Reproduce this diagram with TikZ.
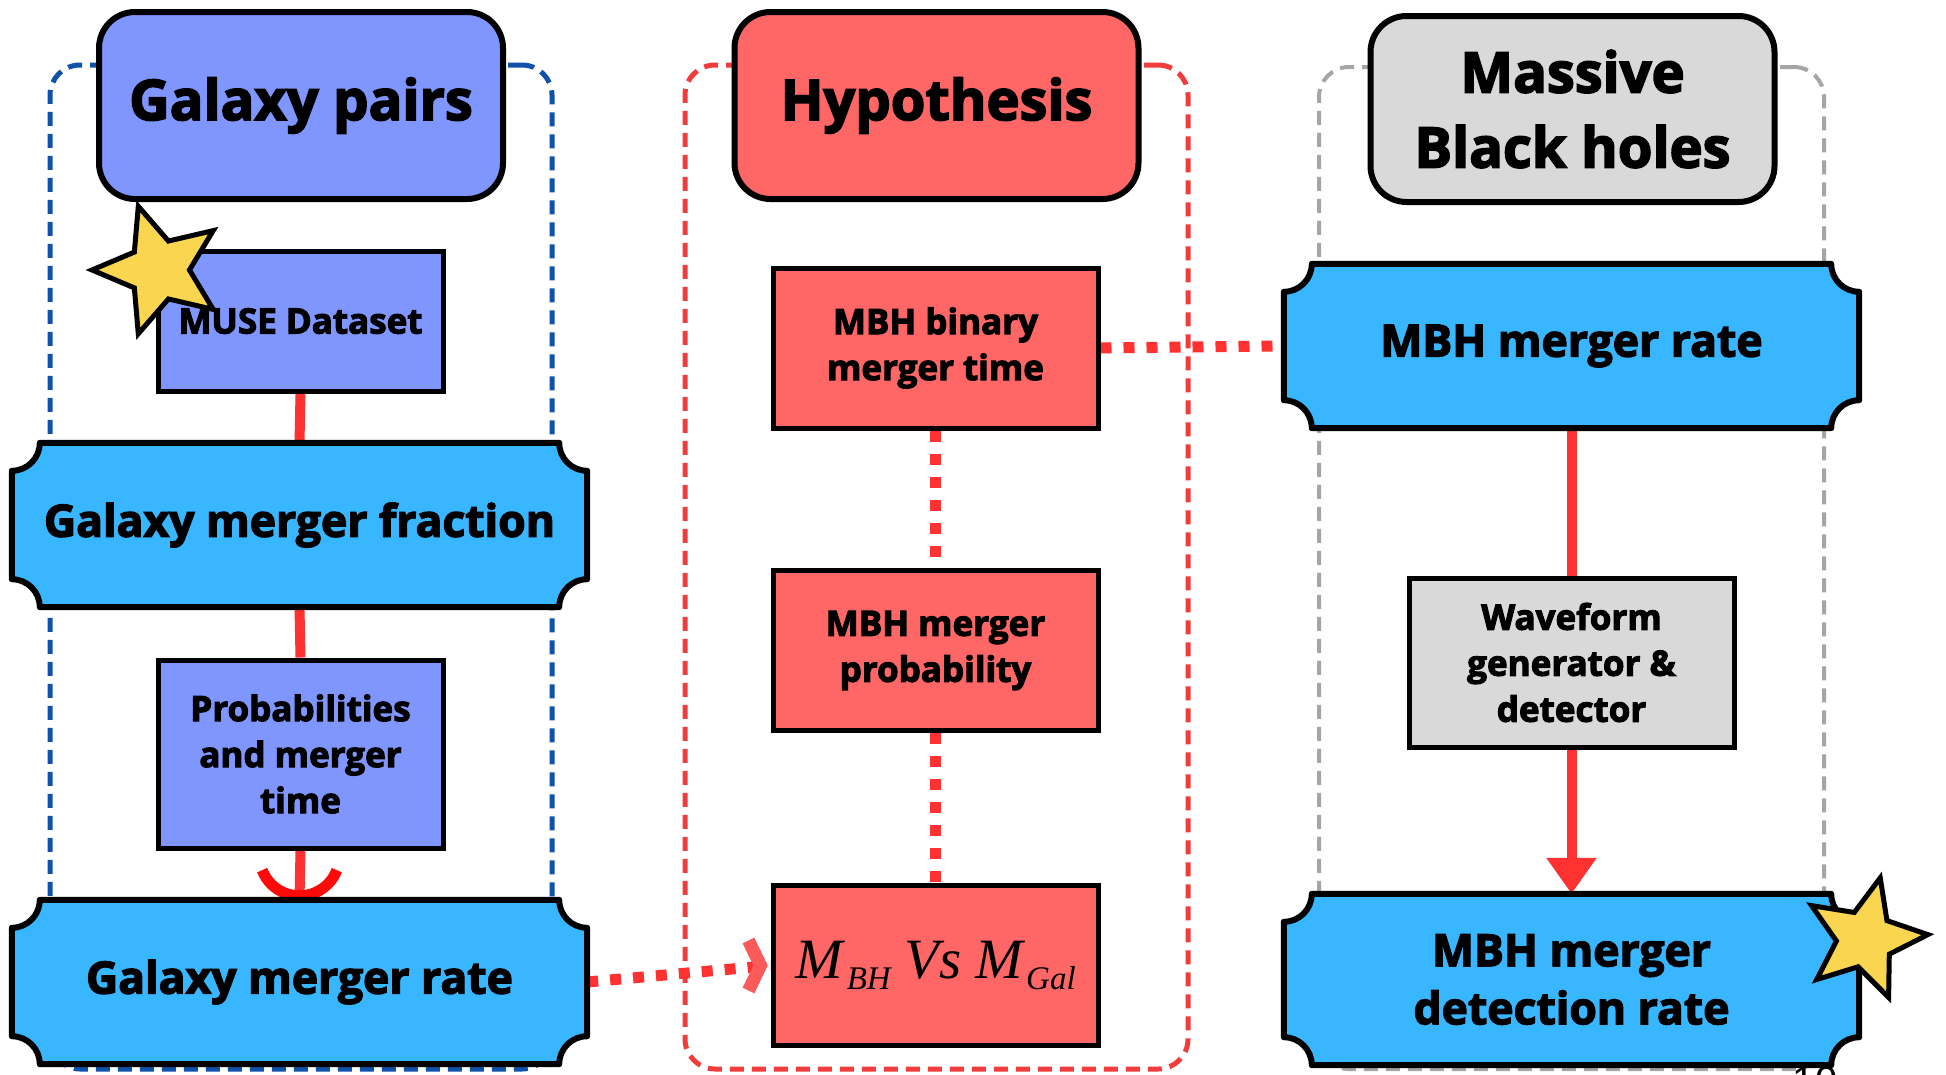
\documentclass[tikz,border=0pt]{standalone}
\usepackage{fontspec}
\setmainfont{Open Sans}[BoldFeatures={FakeBold=3}]
\newfontfamily\serifface{Liberation Serif}
\newfontfamily\slidenumface{Liberation Sans}
\usetikzlibrary{shapes.geometric,arrows.meta,calc}

\definecolor{periwinkle}{RGB}{128,150,255}
\definecolor{skyblue}{RGB}{56,182,255}
\definecolor{salmon}{RGB}{255,102,102}
\definecolor{lightgrey}{RGB}{217,217,217}
\definecolor{starfill}{RGB}{250,214,80}
\definecolor{linkred}{RGB}{255,49,49}
\definecolor{chevred}{RGB}{250,90,90}
\definecolor{arcred}{RGB}{255,10,10}
\definecolor{navydash}{RGB}{16,82,170}
\definecolor{reddash}{RGB}{240,60,60}
\definecolor{greydash}{RGB}{165,165,165}

\pgfdeclarelayer{frames}
\pgfdeclarelayer{links}
\pgfdeclarelayer{plates}
\pgfsetlayers{frames,links,plates,main}

\newcommand\headfont{\bfseries\fontsize{56}{75}\selectfont}
\newcommand\platefont{\bfseries\fontsize{44.5}{58}\selectfont}
\newcommand\boxfont{\bfseries\fontsize{35}{46}\selectfont}
\newcommand\lowidx[1]{\raisebox{-11pt}{\fontsize{33}{33}\selectfont #1}}

% ticket-shaped plate: rectangle with concave quarter-circle corners
\def\notchr{28}
\newcommand\notchplate[2]{%
  \filldraw[fill=#2, draw=black, line width=6, line join=round]
    ($(#1.north west)+(\notchr,0)$) -- ($(#1.north east)-(\notchr,0)$)
    arc[start angle=180, end angle=90, radius=\notchr]
    -- ($(#1.south east)-(0,\notchr)$)
    arc[start angle=270, end angle=180, radius=\notchr]
    -- ($(#1.south west)+(\notchr,0)$)
    arc[start angle=0, end angle=-90, radius=\notchr]
    -- ($(#1.north west)+(0,\notchr)$)
    arc[start angle=90, end angle=0, radius=\notchr]
    -- cycle;}

\tikzset{
  frame/.style={rectangle, rounded corners=30, line width=5, dash pattern=on 14 off 8, inner sep=0},
  header/.style={rectangle, draw=black, line width=6, rounded corners=36, minimum width=404,
    minimum height=187, inner sep=0, align=center, font=\headfont, text=black},
  plainbox/.style={rectangle, draw=black, line width=5, inner sep=0, align=center,
    font=\boxfont, text=black},
  midbox/.style={plainbox, fill=salmon, minimum width=325, minimum height=160},
  plate/.style={rectangle, minimum width=575, minimum height=164, inner sep=0, align=center,
    font=\platefont, text=black},
  redlink/.style={draw=linkred, line width=10},
  dotlink/.style={draw=linkred, line width=11, dash pattern=on 11 off 12},
  starmark/.style={star, star points=5, star point ratio=2.2, draw=black, line width=5,
    fill=starfill, inner sep=0},
}

\begin{document}
\begin{tikzpicture}[x=1pt, y=-1pt, line cap=butt]
\useasboundingbox (0,0) rectangle (1946,1074);

\begin{pgfonlayer}{frames}
  \fill[white] (0,0) rectangle (1946,1074);
  \node[frame, draw=navydash, minimum width=502, minimum height=1004] (leftframe) at (301,567) {};
  \node[frame, draw=reddash, minimum width=503, minimum height=1004] (midframe) at (936.5,567) {};
  \node[frame, draw=greydash, line width=4, minimum width=505, minimum height=1002] (rightframe) at (1571.5,568) {};
\end{pgfonlayer}

% left column: galaxy pairs
\node[header, fill=periwinkle] (gpairs) at (301,105.5) {Galaxy pairs};
\node[plainbox, fill=periwinkle, minimum width=285, minimum height=140] (muse) at (300.5,321) {MUSE Dataset};
\node[plate] (gmf) at (299.5,525) {Galaxy merger fraction};
\node[plainbox, fill=periwinkle, minimum width=285, minimum height=188] (prob) at (300.5,754) {Probabilities\\and merger\\time};
\node[plate] (gmr) at (299.5,982) {Galaxy merger rate};

% middle column: hypothesis
\node[header, fill=salmon] (hyp) at (936.5,105.5) {Hypothesis};
\node[midbox] (bintime) at (935.5,348) {MBH binary\\merger time};
\node[midbox] (mprob) at (935.5,650.5) {MBH merger\\probability};
\node[midbox] (mvm) at (935.5,965.5)
  {\serifface\mdseries\itshape\fontsize{57}{57}\selectfont M\kern4pt\lowidx{BH}\kern14pt Vs\kern14pt M\kern3pt\lowidx{Gal}};

% right column: massive black holes
\node[header, fill=lightgrey, minimum height=186] (mbh) at (1572.5,109) {Massive\\Black holes};
\node[plate] (mbr) at (1571.5,346) {MBH merger rate};
\node[plainbox, fill=lightgrey, minimum width=325, minimum height=169] (wave) at (1571.5,662.5) {Waveform\\generator \&\\detector};
\node[plate, minimum height=171] (det) at (1571.5,979.5) {MBH merger\\detection rate};

\begin{pgfonlayer}{plates}
  \notchplate{gmf}{skyblue}
  \notchplate{gmr}{skyblue}
  \notchplate{mbr}{skyblue}
  \notchplate{det}{skyblue}
\end{pgfonlayer}

\begin{pgfonlayer}{links}
  \draw[redlink] (muse.south) -- (gmf.north);
  \draw[redlink] (gmf.south) -- (prob.north);
  \draw[redlink] (prob.south) -- (gmr.north);
  \draw[arcred, line width=11] ($(gmr.north)+(0,-44)$) ++(21:40) arc[start angle=21, end angle=159, radius=40];
  \draw[dotlink] (bintime.south) -- (mprob.north);
  \draw[dotlink] (mprob.south) -- (mvm.north);
  \draw[dotlink] (bintime.east) -- (mbr.west);
  \draw[dotlink] (gmr.east) -- (mvm.west);
  \draw[redlink] (mbr.south) -- (wave.north);
  \draw[redlink, -{Triangle[length=36pt, width=48pt]}] (wave.south) -- (det.north);
\end{pgfonlayer}

% open chevron where the dotted link meets the mass relation box
\draw[chevred, line width=13, line join=miter]
  ($(mvm.west)+(-22,-25)$) -- ($(mvm.west)+(-10,0)$) -- ($(mvm.west)+(-22,25)$);

% stars
\node[starmark, minimum size=134, shape border rotate=90] (starleft) at (159,270) {};
\node[starmark, minimum size=126, shape border rotate=-14] (starright) at (1865,939) {};

% slide number
\node[font=\slidenumface\fontsize{40}{40}\selectfont, anchor=base, inner sep=0] (pagenum) at (1815,1094) {10};
\end{tikzpicture}
\end{document}
